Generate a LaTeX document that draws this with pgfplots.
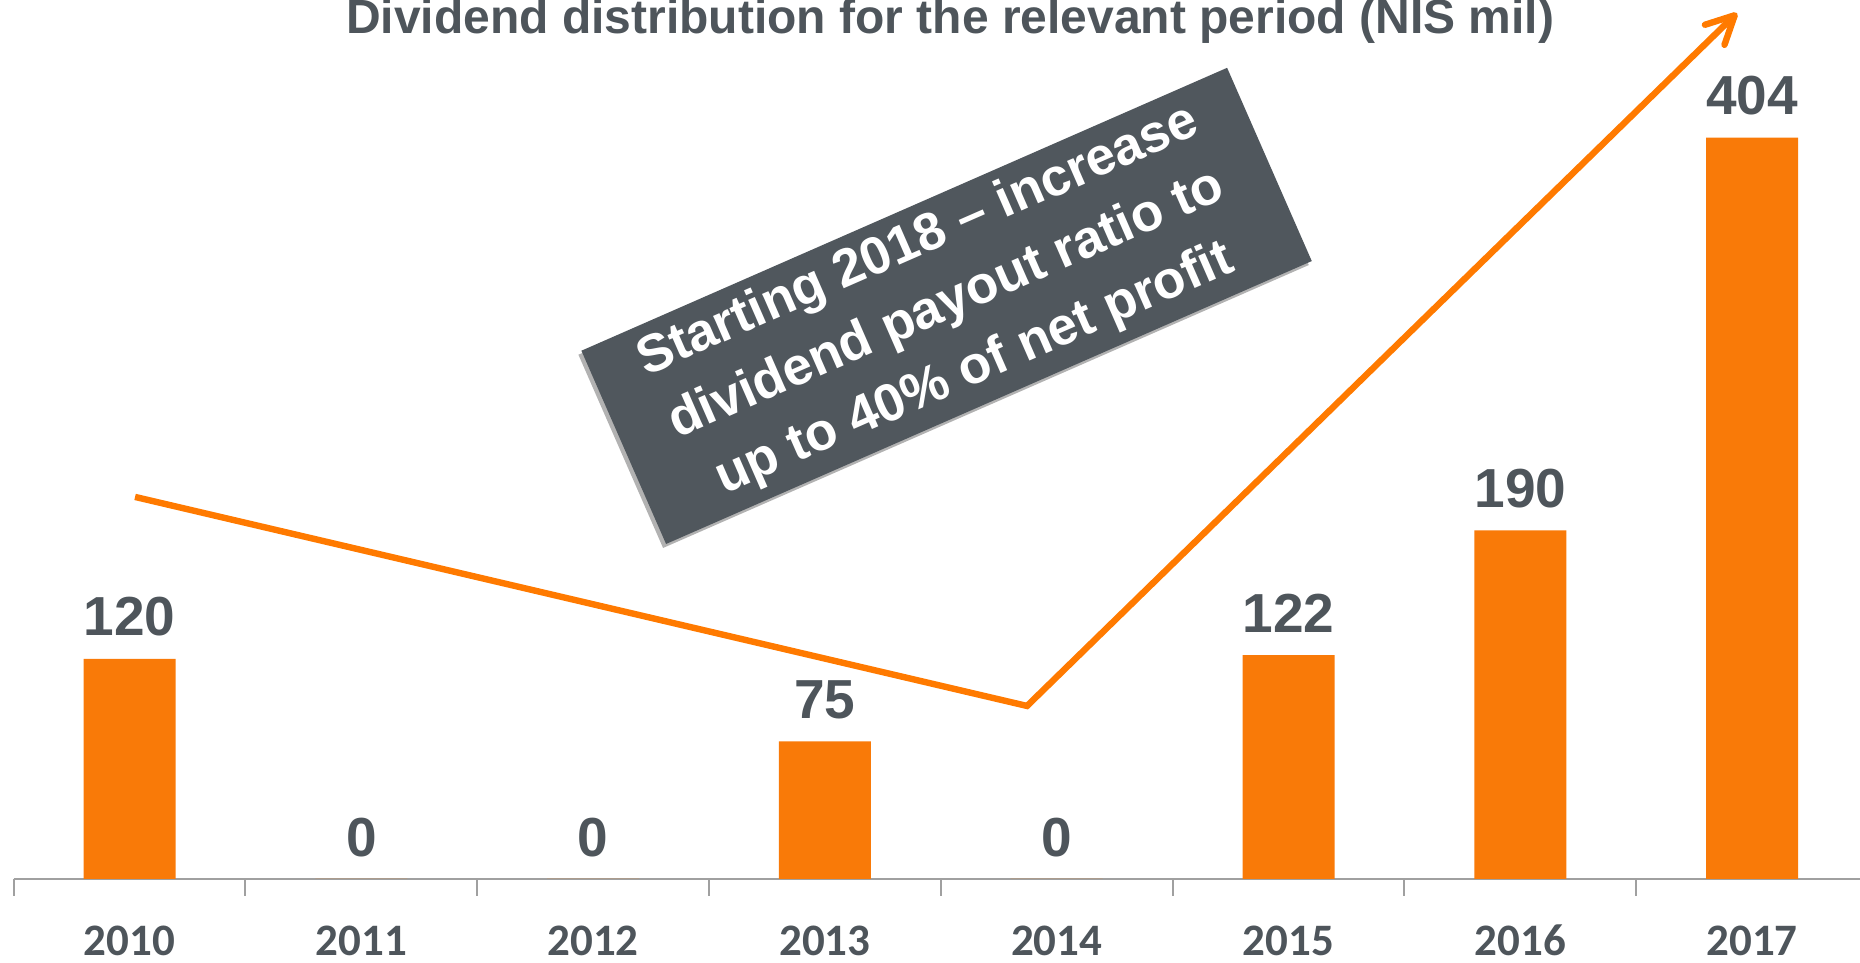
\documentclass[border=0pt]{standalone}
\usepackage{pgfplots}
\pgfplotsset{compat=1.18}
\usepackage{fontspec}
\setmainfont{Liberation Sans}
\newfontfamily\carlito{Carlito}
\usetikzlibrary{arrows.meta,shadows,calc}
\definecolor{barorange}{HTML}{F97A08}
\definecolor{lineorange}{HTML}{FF7A00}
\definecolor{textgray}{HTML}{4E555B}
\definecolor{boxgray}{HTML}{50575D}
\definecolor{axisgray}{HTML}{A0A0A0}
\begin{document}
\begin{tikzpicture}
\begin{axis}[
  name=ax,
  scale only axis,
  width=927.2pt, height=439.5pt,
  xmin=-0.5, xmax=7.5, ymin=0, ymax=479,
  axis x line*=bottom, axis y line=none,
  axis line style={draw=axisgray, line width=1pt},
  xtick={0,1,2,3,4,5,6,7},
  xticklabels={2010,2011,2012,2013,2014,2015,2016,2017},
  minor xtick={-0.5,0.5,1.5,2.5,3.5,4.5,5.5,6.5,7.5},
  major tick length=0pt, minor tick length=8.5pt, tick align=outside,
  minor tick style={draw=axisgray, line width=1pt},
  ytick=\empty,
  xticklabel style={font=\carlito\bfseries\fontsize{22.5pt}{26pt}\selectfont, text=textgray, anchor=base, yshift=-38.5pt, inner sep=0pt},
  clip=false,
  /pgf/number format/assume math mode=true,
]
\addplot[ybar, bar width=46pt, fill=barorange, draw=none,
  nodes near coords,
  every node near coord/.append style={font=\bfseries\fontsize{27.5pt}{30pt}\selectfont, text=textgray, anchor=south, yshift=11pt, inner sep=0pt}]
  coordinates {(0,120) (1,0) (2,0) (3,75) (4,0) (5,122) (6,190) (7,404)};
\addplot[sharp plot, no markers, color=lineorange, line width=3.2pt, line join=miter,
  -{Straight Barb[length=14pt, width=14pt, round]}]
  coordinates {(0.024,208.2) (3.872,94.3) (6.935,471.9)};
\node[rotate=23.66, fill=boxgray, minimum width=352.5pt, minimum height=105.5pt,
  inner sep=0pt, text=white, align=center,
  font=\bfseries\fontsize{26.5pt}{35pt}\selectfont,
  drop shadow={shadow xshift=-1.5pt, shadow yshift=-2pt, opacity=0.3, fill=black}]
  at (axis cs:3.525,312.3) {Starting 2018 -- increase\\dividend payout ratio to\\up to 40\% of net profit};
\node[anchor=base, inner sep=0pt, font=\bfseries\fontsize{24pt}{28pt}\selectfont, text=textgray]
  at (axis cs:3.54,460.5) {Dividend distribution for the relevant period (NIS mil)};
\end{axis}
\pgfresetboundingbox
\path[use as bounding box] ($(ax.south west)+(-6.8pt,-42pt)$) rectangle ($(ax.south west)+(923.2pt,439.5pt)$);
\end{tikzpicture}
\end{document}
